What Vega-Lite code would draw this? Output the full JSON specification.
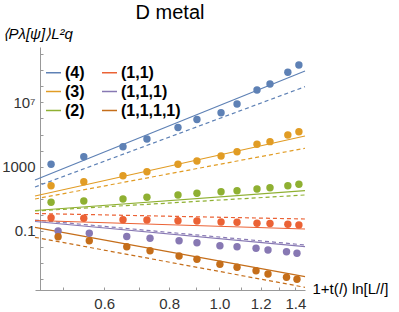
{
  "$schema": "https://vega.github.io/schema/vega-lite/v6.json",
  "width": 270,
  "height": 243,
  "autosize": {"type": "none"},
  "padding": {"left": 35, "top": 47, "right": 94, "bottom": 22},
  "background": "white",
  "title": {"text": "D  metal", "font": "Liberation Sans", "fontSize": 20, "fontWeight": "normal", "color": "#000", "anchor": "middle", "frame": "group", "baseline": "alphabetic", "offset": -13},
  "config": {
    "view": {"stroke": null},
    "font": "Liberation Sans",
    "axis": {"domainColor": "#999", "tickColor": "#999", "labelColor": "#333", "labelFont": "Liberation Sans", "labelFontSize": 15, "grid": false, "labelOverlap": false, "labelFlush": false, "titleFont": "Liberation Sans", "titleFontSize": 15, "titleFontWeight": "normal", "titleColor": "#000"},
    "legend": {"title": null, "orient": "none", "legendX": 10, "legendY": 17, "columns": 2, "symbolType": "stroke", "symbolSize": 225, "symbolStrokeWidth": 1.5, "labelFont": "Liberation Sans", "labelFontSize": 16, "labelFontWeight": "bold", "labelColor": "#000", "labelOffset": 3, "rowPadding": 2, "columnPadding": 14, "padding": 0}
  },
  "datasets": {
    "pts": [
      {"s": "(4)", "x": 0.474, "y": 1409}, {"s": "(4)", "x": 0.548, "y": 4198}, {"s": "(4)", "x": 0.652, "y": 17580}, {"s": "(4)", "x": 0.725, "y": 53090}, {"s": "(4)", "x": 0.832, "y": 276100}, {"s": "(4)", "x": 0.905, "y": 869000}, {"s": "(4)", "x": 1.007, "y": 2301000}, {"s": "(4)", "x": 1.081, "y": 8017000}, {"s": "(4)", "x": 1.181, "y": 59700000}, {"s": "(4)", "x": 1.251, "y": 140900000}, {"s": "(4)", "x": 1.354, "y": 755100000}, {"s": "(4)", "x": 1.422, "y": 2153000000},
      {"s": "(3)", "x": 0.474, "y": 65.61}, {"s": "(3)", "x": 0.548, "y": 116.4}, {"s": "(3)", "x": 0.652, "y": 275.4}, {"s": "(3)", "x": 0.725, "y": 488.7}, {"s": "(3)", "x": 0.832, "y": 1409}, {"s": "(3)", "x": 0.905, "y": 2265}, {"s": "(3)", "x": 1.007, "y": 4634}, {"s": "(3)", "x": 1.081, "y": 8590}, {"s": "(3)", "x": 1.181, "y": 24830}, {"s": "(3)", "x": 1.251, "y": 36060}, {"s": "(3)", "x": 1.354, "y": 94190}, {"s": "(3)", "x": 1.422, "y": 151000},
      {"s": "(2)", "x": 0.474, "y": 6.067}, {"s": "(2)", "x": 0.548, "y": 7.311}, {"s": "(2)", "x": 0.652, "y": 9.75}, {"s": "(2)", "x": 0.725, "y": 12.45}, {"s": "(2)", "x": 0.832, "y": 17.3}, {"s": "(2)", "x": 0.905, "y": 22.08}, {"s": "(2)", "x": 1.007, "y": 27.73}, {"s": "(2)", "x": 1.081, "y": 32.06}, {"s": "(2)", "x": 1.181, "y": 40.83}, {"s": "(2)", "x": 1.251, "y": 49.2}, {"s": "(2)", "x": 1.354, "y": 65.61}, {"s": "(2)", "x": 1.422, "y": 80.17},
      {"s": "(1,1)", "x": 0.474, "y": 0.6668}, {"s": "(1,1)", "x": 0.548, "y": 0.6124}, {"s": "(1,1)", "x": 0.652, "y": 0.5012}, {"s": "(1,1)", "x": 0.725, "y": 0.4797}, {"s": "(1,1)", "x": 0.832, "y": 0.4345}, {"s": "(1,1)", "x": 0.905, "y": 0.4159}, {"s": "(1,1)", "x": 1.007, "y": 0.3606}, {"s": "(1,1)", "x": 1.081, "y": 0.3451}, {"s": "(1,1)", "x": 1.181, "y": 0.2992}, {"s": "(1,1)", "x": 1.251, "y": 0.2917}, {"s": "(1,1)", "x": 1.354, "y": 0.2588}, {"s": "(1,1)", "x": 1.422, "y": 0.2344},
      {"s": "(1,1,1)", "x": 0.489, "y": 0.09908}, {"s": "(1,1,1)", "x": 0.5615, "y": 0.07129}, {"s": "(1,1,1)", "x": 0.663, "y": 0.04508}, {"s": "(1,1,1)", "x": 0.735, "y": 0.03483}, {"s": "(1,1,1)", "x": 0.836, "y": 0.02466}, {"s": "(1,1,1)", "x": 0.905, "y": 0.01854}, {"s": "(1,1,1)", "x": 1.002, "y": 0.01205}, {"s": "(1,1,1)", "x": 1.081, "y": 0.01045}, {"s": "(1,1,1)", "x": 1.176, "y": 0.008299}, {"s": "(1,1,1)", "x": 1.24, "y": 0.006501}, {"s": "(1,1,1)", "x": 1.346, "y": 0.005093}, {"s": "(1,1,1)", "x": 1.41, "y": 0.004055},
      {"s": "(1,1,1,1)", "x": 0.489, "y": 0.04375}, {"s": "(1,1,1,1)", "x": 0.5615, "y": 0.02466}, {"s": "(1,1,1,1)", "x": 0.663, "y": 0.01045}, {"s": "(1,1,1,1)", "x": 0.735, "y": 0.005888}, {"s": "(1,1,1,1)", "x": 0.836, "y": 0.002754}, {"s": "(1,1,1,1)", "x": 0.905, "y": 0.001738}, {"s": "(1,1,1,1)", "x": 1.002, "y": 0.0008375}, {"s": "(1,1,1,1)", "x": 1.081, "y": 0.0005445}, {"s": "(1,1,1,1)", "x": 1.176, "y": 0.0003342}, {"s": "(1,1,1,1)", "x": 1.24, "y": 0.0002084}, {"s": "(1,1,1,1)", "x": 1.346, "y": 0.0001297}, {"s": "(1,1,1,1)", "x": 1.41, "y": 0.0000975}
    ],
    "fits": [
      {"s": "(4)", "kind": "solid", "x": 0.4414, "y": 148.6}, {"s": "(4)", "kind": "solid", "x": 1.461, "y": 909900000},
      {"s": "(4)", "kind": "dash", "x": 0.4414, "y": 54.45}, {"s": "(4)", "kind": "dash", "x": 1.461, "y": 95720000},
      {"s": "(3)", "kind": "solid", "x": 0.4414, "y": 15.0}, {"s": "(3)", "kind": "solid", "x": 1.461, "y": 81660},
      {"s": "(3)", "kind": "dash", "x": 0.4414, "y": 9.75}, {"s": "(3)", "kind": "dash", "x": 1.461, "y": 14000},
      {"s": "(2)", "kind": "solid", "x": 0.4414, "y": 1.875}, {"s": "(2)", "kind": "solid", "x": 1.461, "y": 32.06},
      {"s": "(2)", "kind": "dash", "x": 0.4414, "y": 1.746}, {"s": "(2)", "kind": "dash", "x": 1.461, "y": 17.3},
      {"s": "(1,1)", "kind": "solid", "x": 0.4414, "y": 0.4467}, {"s": "(1,1)", "kind": "solid", "x": 1.461, "y": 0.1321},
      {"s": "(1,1)", "kind": "dash", "x": 0.4414, "y": 1.219}, {"s": "(1,1)", "kind": "dash", "x": 1.461, "y": 0.5534},
      {"s": "(1,1,1)", "kind": "solid", "x": 0.4414, "y": 0.3873}, {"s": "(1,1,1)", "kind": "solid", "x": 1.461, "y": 0.01045},
      {"s": "(1,1,1)", "kind": "dash", "x": 0.4414, "y": 0.4797}, {"s": "(1,1,1)", "kind": "dash", "x": 1.461, "y": 0.01334},
      {"s": "(1,1,1,1)", "kind": "solid", "x": 0.4414, "y": 0.1687}, {"s": "(1,1,1,1)", "kind": "solid", "x": 1.461, "y": 0.0001416},
      {"s": "(1,1,1,1)", "kind": "dash", "x": 0.4414, "y": 0.04018}, {"s": "(1,1,1,1)", "kind": "dash", "x": 1.461, "y": 0.00003097}
    ]
  },
  "encoding": {
    "x": {"field": "x", "type": "quantitative", "scale": {"type": "log", "domain": [0.4414, 1.461], "nice": false},
      "axis": {"values": [0.5, 0.6, 0.7, 0.8, 0.9, 1.0, 1.1, 1.2, 1.3, 1.4], "labelExpr": "(round(datum.value*10) % 2 == 0) ? format(datum.value, '.1f') : ''", "tickSize": -3, "labelPadding": 9, "title": "1+t(𝑙) ln[L/𝑙]", "titleAngle": 0, "titleAlign": "left", "titleBaseline": "middle", "titleX": 277, "titleY": -2}},
    "y": {"field": "y", "type": "quantitative", "scale": {"type": "log", "domain": [2.104e-5, 2.818e10], "nice": false},
      "axis": {"offset": -5, "values": [0.0001, 0.001, 0.01, 0.1, 1, 10, 100, 1000, 10000, 100000, 1000000, 10000000, 100000000, 1000000000, 10000000000], "labelExpr": "abs(log(datum.value)/LN10 - 7) < 0.01 ? '10⁷' : abs(log(datum.value)/LN10 - 3) < 0.01 ? '1000' : abs(log(datum.value)/LN10 + 1) < 0.01 ? '0.1' : ''", "tickSize": -3, "labelPadding": 8, "title": "⟨Pλ[ψ]⟩L²q", "titleAngle": 0, "titleAlign": "left", "titleBaseline": "alphabetic", "titleX": -38, "titleY": -9, "titleFontStyle": "italic"}}
  },
  "layer": [
    {
      "data": {"name": "fits"},
      "transform": [{"filter": "datum.kind == 'dash'"}],
      "mark": {"type": "line", "strokeDash": [4, 3], "strokeWidth": 1.2, "clip": false},
      "encoding": {
        "color": {"field": "s", "type": "nominal", "scale": {"domain": ["(4)", "(3)", "(2)", "(1,1)", "(1,1,1)", "(1,1,1,1)"], "range": ["#5E81B5", "#E19C24", "#8FB032", "#EB6235", "#8778B3", "#C56E1A"]}},
        "detail": {"field": "s"}
      }
    },
    {
      "data": {"name": "fits"},
      "transform": [{"filter": "datum.kind == 'solid'"}],
      "mark": {"type": "line", "strokeWidth": 1.2, "clip": false},
      "encoding": {
        "color": {"field": "s", "type": "nominal", "scale": {"domain": ["(4)", "(3)", "(2)", "(1,1)", "(1,1,1)", "(1,1,1,1)"], "range": ["#5E81B5", "#E19C24", "#8FB032", "#EB6235", "#8778B3", "#C56E1A"]}},
        "detail": {"field": "s"}
      }
    },
    {
      "data": {"name": "pts"},
      "mark": {"type": "circle", "size": 55, "opacity": 1},
      "encoding": {
        "color": {"field": "s", "type": "nominal", "scale": {"domain": ["(4)", "(3)", "(2)", "(1,1)", "(1,1,1)", "(1,1,1,1)"], "range": ["#5E81B5", "#E19C24", "#8FB032", "#EB6235", "#8778B3", "#C56E1A"]}}
      }
    }
  ]
}
